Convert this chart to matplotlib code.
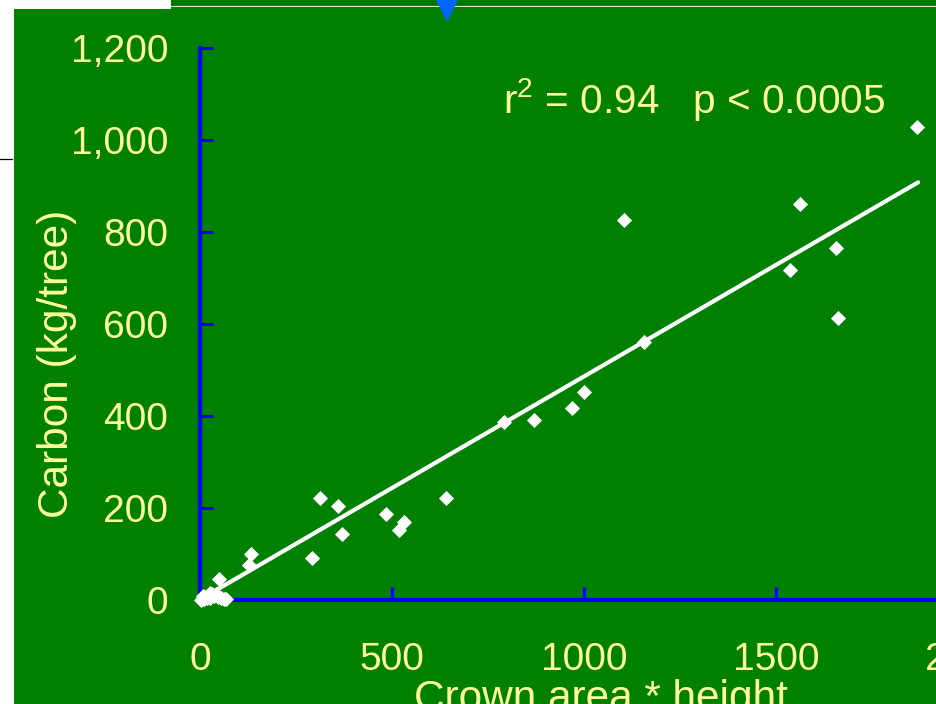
import matplotlib
matplotlib.use("Agg")
import matplotlib.pyplot as plt
from matplotlib.patches import Rectangle, Polygon
from matplotlib.lines import Line2D
import numpy as np

plt.rcParams['font.family'] = ['Liberation Sans', 'DejaVu Sans']
plt.rcParams['mathtext.default'] = 'regular'

# Crown area * height vs. carbon per tree
crown_x = [2, 6, 10, 14, 18, 22, 27, 31, 36, 42, 48, 55, 62, 68, 25, 8,
           49, 128, 133, 292, 312, 359, 370, 484, 517, 531, 641,
           792, 870, 969, 1000, 1104, 1156, 1536, 1562, 1656, 1661, 1866]
carbon_y = [1, 3, 2, 6, 4, 9, 5, 12, 8, 14, 6, 4, 3, 2, 15, 8,
            46, 76, 101, 91, 221, 204, 143, 187, 152, 170, 221,
            388, 391, 417, 452, 826, 560, 717, 861, 765, 613, 1029]

# Regression line
fit_slope = 0.485
fit_intercept = 1.0
fit_range = [30, 1870]

x_ticks = [0, 500, 1000, 1500, 2000]
y_ticks = [0, 200, 400, 600, 800, 1000, 1200]
y_tick_labels = ['0', '200', '400', '600', '800', '1,000', '1,200']

x_label = 'Crown area * height'
y_label = 'Carbon (kg/tree)'
stats_text = 'r$^2$ = 0.94   p < 0.0005'

GREEN = '#008000'
DARK_GREEN = '#005f00'
TEXT = '#ffff99'
AXIS_BLUE = '#0000ff'

W, H = 937, 704
fig = plt.figure(figsize=(W / 100, H / 100), dpi=100, facecolor='white')


def px_rect(x0, y0, x1, y1, **kw):
    """Rectangle given in pixel coordinates measured from the top-left."""
    return Rectangle((x0 / W, 1 - y1 / H), (x1 - x0) / W, (y1 - y0) / H,
                     transform=fig.transFigure, linewidth=0, **kw)


# slide background panel and top strip
fig.patches.append(px_rect(14, 8.7, W, H, facecolor=GREEN, zorder=0))
fig.patches.append(px_rect(171, 0, W, 8.7, facecolor=GREEN, zorder=0))
fig.patches.append(px_rect(171, 1.2, W, 2.3, facecolor=DARK_GREEN, zorder=0))
fig.patches.append(px_rect(171, 3.3, W, 4.3, facecolor=DARK_GREEN, zorder=0))
fig.patches.append(px_rect(171, 6.0, W, 7.4, facecolor='#d8ecd8', zorder=0))
tri = Polygon([(436 / W, 1.0), (458 / W, 1.0), (447 / W, 1 - 22 / H)],
              closed=True, transform=fig.transFigure, facecolor='#0066ff',
              edgecolor='none', zorder=5)
fig.patches.append(tri)
fig.lines.append(Line2D([0, 12 / W], [1 - 159 / H, 1 - 159 / H],
                        transform=fig.transFigure, color='black', lw=0.9))

# axes: 0 at x=200px, 2000 at x=968px; 0 at y=600px, 1200 at y=48px
ax = fig.add_axes([200 / W, (H - 600) / H, 768 / W, 552 / H])
ax.set_zorder(2)
ax.patch.set_visible(False)
ax.set_xlim(0, 2000)
ax.set_ylim(0, 1200)

for side in ('top', 'right'):
    ax.spines[side].set_visible(False)
for side in ('left', 'bottom'):
    ax.spines[side].set_color(AXIS_BLUE)
    ax.spines[side].set_linewidth(3)

ax.set_xticks(x_ticks)
ax.set_xticklabels([str(v) for v in x_ticks])
ax.set_yticks(y_ticks)
ax.set_yticklabels(y_tick_labels)
ax.tick_params(axis='both', direction='in', length=9.5, width=2.2,
               color=AXIS_BLUE, labelcolor=TEXT, labelsize=28)
ax.tick_params(axis='x', pad=30)
ax.tick_params(axis='y', pad=23)

# fitted line
fx = np.array(fit_range, dtype=float)
ax.plot(fx, fit_slope * fx + fit_intercept, color='white', lw=3.0,
        solid_capstyle='round', zorder=3, clip_on=False)

# observations
ax.plot(crown_x, carbon_y, linestyle='none', marker='D', ms=7.5,
        mfc='white', mec='white', mew=0.6, zorder=4, clip_on=False)

fig.text(601 / W, 1 - 710 / H, x_label, color=TEXT, fontsize=30.5,
         ha='center', va='baseline')
fig.text(57 / W, 1 - 364 / H, y_label, color=TEXT, fontsize=30.5,
         ha='center', va='center', rotation=90)
fig.text(503 / W, 1 - 113 / H, stats_text, color=TEXT, fontsize=29.2,
         ha='left', va='baseline')

fig.savefig('out.png', dpi=100, facecolor='white')
